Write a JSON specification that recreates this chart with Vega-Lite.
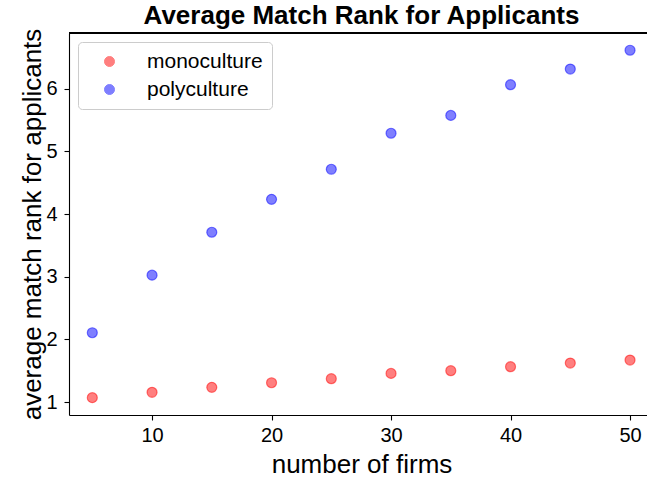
{
  "$schema": "https://vega.github.io/schema/vega-lite/v6.json",
  "width": 578,
  "height": 382,
  "autosize": {"type": "none"},
  "padding": {"left": 69, "top": 33, "right": 0, "bottom": 66},
  "background": "white",
  "title": {"text": "Average Match Rank for Applicants", "fontSize": 26, "fontWeight": "bold", "font": "Liberation Sans", "color": "black", "anchor": "middle", "frame": "group", "dx": 3.5, "dy": 1, "baseline": "top", "offset": 0},
  "config": {
    "view": {"stroke": null},
    "font": "Liberation Sans",
    "axis": {"grid": false, "domainColor": "black", "domainWidth": 1.1, "tickColor": "black", "tickWidth": 1.1, "tickSize": 5, "labelColor": "black", "labelFontSize": 20, "labelFont": "Liberation Sans", "titleColor": "black", "titleFontSize": 26, "titleFont": "Liberation Sans", "titleFontWeight": "normal"}
  },
  "data": {"values": [
    {"firms": 5, "rank": 1.07, "series": "monoculture"},
    {"firms": 10, "rank": 1.155, "series": "monoculture"},
    {"firms": 15, "rank": 1.234, "series": "monoculture"},
    {"firms": 20, "rank": 1.308, "series": "monoculture"},
    {"firms": 25, "rank": 1.372, "series": "monoculture"},
    {"firms": 30, "rank": 1.457, "series": "monoculture"},
    {"firms": 35, "rank": 1.5, "series": "monoculture"},
    {"firms": 40, "rank": 1.564, "series": "monoculture"},
    {"firms": 45, "rank": 1.622, "series": "monoculture"},
    {"firms": 50, "rank": 1.67, "series": "monoculture"},
    {"firms": 5, "rank": 2.106, "series": "polyculture"},
    {"firms": 10, "rank": 3.025, "series": "polyculture"},
    {"firms": 15, "rank": 3.71, "series": "polyculture"},
    {"firms": 20, "rank": 4.235, "series": "polyculture"},
    {"firms": 25, "rank": 4.715, "series": "polyculture"},
    {"firms": 30, "rank": 5.29, "series": "polyculture"},
    {"firms": 35, "rank": 5.575, "series": "polyculture"},
    {"firms": 40, "rank": 6.065, "series": "polyculture"},
    {"firms": 45, "rank": 6.315, "series": "polyculture"},
    {"firms": 50, "rank": 6.615, "series": "polyculture"}
  ]},
  "layer": [
    {
      "mark": {"type": "circle", "size": 100, "opacity": 1, "fillOpacity": 0.5, "strokeOpacity": 0.5, "strokeWidth": 1.2},
      "encoding": {
        "x": {"field": "firms", "type": "quantitative", "scale": {"domain": [3.05, 51.42], "nice": false, "zero": false}, "axis": {"values": [10, 20, 30, 40, 50], "format": "d", "title": "number of firms", "titleX": 292.5, "titleY": 57, "titleBaseline": "alphabetic", "labelPadding": 5}},
        "y": {"field": "rank", "type": "quantitative", "scale": {"domain": [0.793, 6.89], "nice": false, "zero": false}, "axis": {"values": [1, 2, 3, 4, 5, 6], "format": "d", "title": "average match rank for applicants", "titleX": -29, "titleY": 191, "titleAngle": -90, "titleAlign": "center", "titleBaseline": "alphabetic", "labelPadding": 7}},
        "color": {"field": "series", "type": "nominal", "scale": {"domain": ["monoculture", "polyculture"], "range": ["#ff0000", "#0000ff"]}, "legend": {"title": null, "orient": "none", "legendX": 9, "legendY": 9, "padding": 9, "symbolOffset": 12, "labelOffset": 27, "labelFontSize": 21, "labelColor": "black", "labelFont": "Liberation Sans", "symbolSize": 100, "symbolType": "circle", "symbolOpacity": 0.5, "rowPadding": 6, "strokeColor": "#cccccc", "cornerRadius": 4, "fillColor": "white", "symbolStrokeWidth": 1}},
        "stroke": {"field": "series", "type": "nominal", "scale": {"domain": ["monoculture", "polyculture"], "range": ["#ff0000", "#0000ff"]}, "legend": null}
      }
    },
    {
      "mark": {"type": "rule", "color": "black", "strokeWidth": 1.1},
      "encoding": {"y": {"datum": 6.89}}
    }
  ]
}
